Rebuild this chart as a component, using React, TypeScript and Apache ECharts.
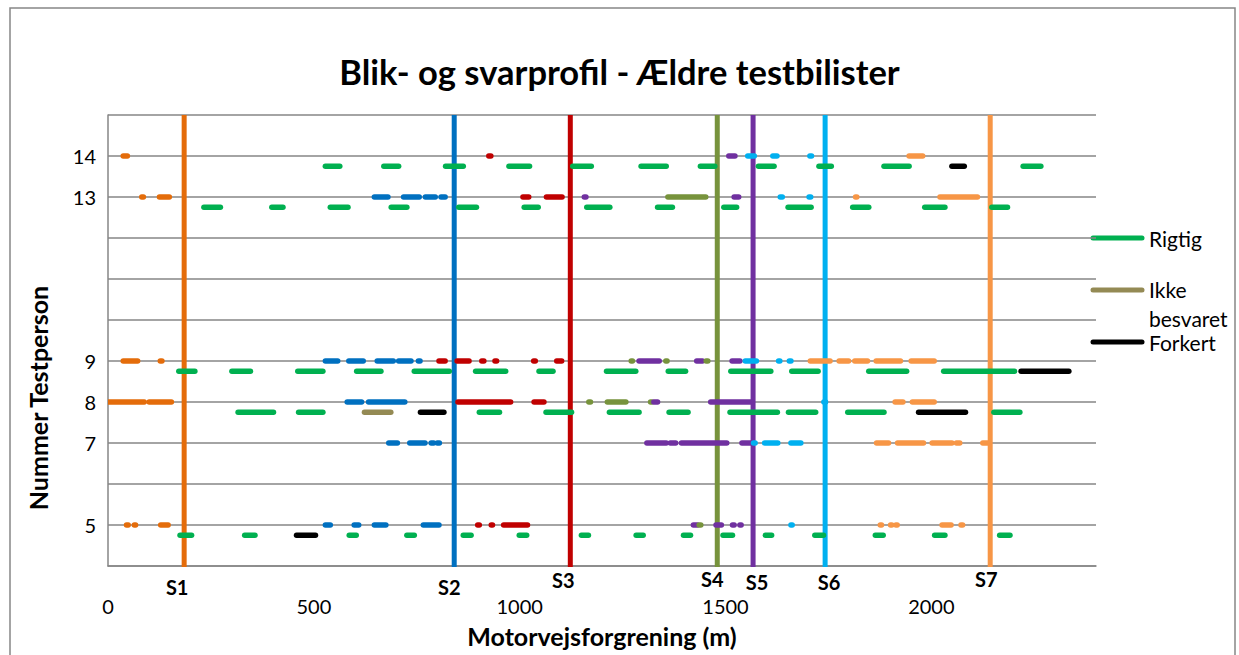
import React, { useEffect, useRef } from "react";
import * as echarts from "echarts";

// ---------- data ----------
const TITLE = "Blik- og svarprofil - Ældre testbilister";
const X_NAME = "Motorvejsforgrening (m)";
const Y_NAME = "Nummer Testperson";
const X_MIN = 0;
const X_MAX = 2400;
const X_STEP = 500;
const Y_MIN = 4;
const Y_MAX = 15;
const Y_LABELS = [5, 7, 8, 9, 13, 14];
const ANSWER_OFFSET = 0.25;

const SIGN_NAMES = ["S1", "S2", "S3", "S4", "S5", "S6", "S7"];
const SIGN_POS = [185, 841, 1123, 1480, 1567, 1742, 2143];

const LEGEND_NAMES = ["Rigtig", "Ikke besvaret", "Forkert"];

type Seg = [number, number, string];

const p14Gaze: Seg[] = [[37, 47, "S1"], [925, 930, "S3"], [1508, 1523, "S5"], [1554, 1570, "S6"], [1615, 1625, "S6"], [1705, 1709, "S6"], [1946, 1979, "S7"]];
const p14Answer: Seg[] = [[528, 563, "R"], [670, 706, "R"], [820, 863, "R"], [974, 1024, "R"], [1129, 1174, "R"], [1295, 1356, "R"], [1439, 1474, "R"], [1580, 1618, "R"], [1727, 1757, "R"], [1885, 1946, "R"], [2050, 2080, "F"], [2223, 2266, "R"]];

const p13Gaze: Seg[] = [[82, 86, "S1"], [125, 149, "S1"], [647, 680, "S2"], [718, 756, "S2"], [771, 795, "S2"], [809, 819, "S2"], [1008, 1022, "S3"], [1065, 1103, "S3"], [1157, 1161, "S5"], [1360, 1452, "S4"], [1521, 1532, "S5"], [1633, 1638, "S6"], [1703, 1707, "S6"], [1816, 1819, "S7"], [2021, 2112, "S7"]];
const p13Answer: Seg[] = [[233, 273, "R"], [398, 425, "R"], [540, 583, "R"], [688, 726, "R"], [852, 895, "R"], [1011, 1045, "R"], [1163, 1219, "R"], [1335, 1371, "R"], [1496, 1527, "R"], [1652, 1708, "R"], [1809, 1848, "R"], [1984, 2033, "R"], [2147, 2185, "R"]];

const p9Gaze: Seg[] = [[37, 72, "S1"], [127, 131, "S1"], [528, 558, "S2"], [585, 620, "S2"], [654, 693, "S2"], [706, 736, "S2"], [754, 758, "S2"], [804, 819, "S3"], [848, 877, "S3"], [908, 913, "S3"], [940, 944, "S3"], [1034, 1038, "S3"], [1090, 1102, "S3"], [1271, 1274, "S4"], [1290, 1339, "S5"], [1355, 1358, "S4"], [1430, 1444, "S5"], [1453, 1457, "S4"], [1516, 1535, "S5"], [1548, 1575, "S6"], [1629, 1632, "S6"], [1655, 1659, "S6"], [1706, 1754, "S7"], [1776, 1799, "S7"], [1814, 1845, "S7"], [1866, 1925, "S7"], [1951, 2007, "S7"]];
const p9Answer: Seg[] = [[172, 211, "R"], [301, 346, "R"], [461, 522, "R"], [604, 663, "R"], [744, 829, "R"], [893, 966, "R"], [1047, 1081, "R"], [1211, 1282, "R"], [1361, 1403, "R"], [1513, 1610, "R"], [1661, 1725, "R"], [1848, 1940, "R"], [2030, 2202, "R"], [2218, 2334, "F"]];

const p8Gaze: Seg[] = [[0, 88, "S1"], [100, 154, "S1"], [581, 616, "S2"], [633, 721, "S2"], [850, 978, "S3"], [1035, 1059, "S3"], [1168, 1172, "S4"], [1213, 1258, "S4"], [1318, 1321, "S4"], [1326, 1335, "S5"], [1464, 1565, "S5"], [1739, 1743, "S6"], [1912, 1931, "S7"], [1954, 2007, "S7"]];
const p8Answer: Seg[] = [[316, 402, "R"], [463, 522, "R"], [623, 687, "I"], [759, 816, "F"], [902, 951, "R"], [1064, 1126, "R"], [1218, 1290, "R"], [1363, 1409, "R"], [1511, 1626, "R"], [1653, 1719, "R"], [1797, 1885, "R"], [1969, 2083, "F"], [2152, 2215, "R"]];

const p7Gaze: Seg[] = [[682, 703, "S2"], [733, 770, "S2"], [785, 791, "S2"], [800, 805, "S2"], [1309, 1356, "S5"], [1366, 1379, "S5"], [1393, 1503, "S5"], [1540, 1562, "S5"], [1568, 1572, "S6"], [1595, 1627, "S6"], [1659, 1683, "S6"], [1867, 1896, "S7"], [1918, 1981, "S7"], [2002, 2050, "S7"], [2061, 2069, "S7"], [2125, 2137, "S7"]];
const p7Answer: Seg[] = [];

const p5Gaze: Seg[] = [[45, 49, "S1"], [64, 67, "S1"], [128, 146, "S1"], [528, 540, "S2"], [598, 609, "S2"], [647, 675, "S2"], [766, 804, "S2"], [898, 902, "S3"], [931, 934, "S3"], [961, 1019, "S3"], [1422, 1432, "S5"], [1436, 1440, "S4"], [1477, 1490, "S5"], [1517, 1521, "S5"], [1535, 1538, "S5"], [1659, 1662, "S6"], [1876, 1879, "S7"], [1901, 1904, "S7"], [1914, 1917, "S7"], [2026, 2048, "S7"], [2072, 2076, "S7"]];
const p5Answer: Seg[] = [[175, 203, "R"], [332, 357, "R"], [458, 504, "F"], [586, 603, "R"], [726, 744, "R"], [863, 882, "R"], [999, 1017, "R"], [1150, 1167, "R"], [1283, 1300, "R"], [1398, 1415, "R"], [1494, 1517, "R"], [1597, 1612, "R"], [1717, 1738, "R"], [1864, 1883, "R"], [2008, 2033, "R"], [2166, 2191, "R"]];

// ---------- styles ----------
const COLORS: Record<string, string> = {
  S1: "#E46C0A",
  S2: "#0070C0",
  S3: "#C00000",
  S4: "#77933C",
  S5: "#7030A0",
  S6: "#00B0F0",
  S7: "#F79646",
  R: "#00B050",
  I: "#948A54",
  F: "#000000",
};
const LEGEND_KEYS = ["R", "I", "F"];
const SIGN_LABEL_DX = [-7, -5, -7, -5, 4, 4, -4];
const SIGN_LABEL_DY = [21, 21, 14, 13, 16, 16, 13];
const FONT = "Lato, 'Open Sans', sans-serif";
const GRID_COLOR = "#868686";

const ROWS = [
  { y: 14, gaze: p14Gaze, answer: p14Answer },
  { y: 13, gaze: p13Gaze, answer: p13Answer },
  { y: 9, gaze: p9Gaze, answer: p9Answer },
  { y: 8, gaze: p8Gaze, answer: p8Answer },
  { y: 7, gaze: p7Gaze, answer: p7Answer },
  { y: 5, gaze: p5Gaze, answer: p5Answer },
];

export default function App() {
  const ref = useRef<HTMLDivElement>(null);

  useEffect(() => {
    if (!ref.current) return;
    const chart = echarts.init(ref.current, undefined, { renderer: "svg" });

    const segData: number[][] = [];
    const segKeys: string[] = [];
    ROWS.forEach((row) => {
      row.gaze.forEach(([a, b, k]) => {
        segData.push([a, b, row.y]);
        segKeys.push(k);
      });
      row.answer.forEach(([a, b, k]) => {
        segData.push([a, b, row.y - ANSWER_OFFSET]);
        segKeys.push(k);
      });
    });

    const legendY = [238, 290, 342];
    const legendFont = `21px ${FONT}`;

    const option: any = {
      animation: false,
      backgroundColor: "#ffffff",
      title: {
        text: TITLE,
        left: "center",
        top: 49,
        textStyle: { fontFamily: FONT, fontWeight: "bold", fontSize: 34.5, color: "#000" },
      },
      grid: { left: 108, right: 143, top: 115, bottom: 89, containLabel: false },
      xAxis: {
        type: "value",
        min: X_MIN,
        max: X_MAX,
        interval: X_STEP,
        splitLine: { show: false },
        axisTick: { show: false },
        axisLine: { onZero: false, lineStyle: { color: GRID_COLOR, width: 1.5 } },
        axisLabel: {
          margin: 30,
          fontFamily: FONT,
          fontSize: 20,
          color: "#000",
          showMaxLabel: false,
          formatter: (v: number) => String(v),
        },
        name: X_NAME,
        nameLocation: "middle",
        nameGap: 57,
        nameTextStyle: { fontFamily: FONT, fontWeight: "bold", fontSize: 25, color: "#000" },
      },
      yAxis: {
        type: "value",
        min: Y_MIN,
        max: Y_MAX,
        interval: 1,
        splitLine: { show: true, lineStyle: { color: GRID_COLOR, width: 1.5 } },
        axisTick: { show: false },
        axisLine: { show: true, onZero: false, lineStyle: { color: GRID_COLOR, width: 1.5 } },
        axisLabel: {
          margin: 12,
          fontFamily: FONT,
          fontSize: 20,
          color: "#000",
          formatter: (v: number) => (Y_LABELS.includes(v) ? String(v) : ""),
        },
      },
      series: [
        {
          type: "custom",
          name: "signs",
          clip: false,
          z: 2,
          data: SIGN_POS.map((x, i) => [x, i]),
          encode: { x: 0 },
          renderItem: (params: any, api: any) => {
            const x = api.value(0);
            const i = params.dataIndex;
            const b = api.coord([x, Y_MIN]);
            const t = api.coord([x, Y_MAX]);
            return {
              type: "group",
              children: [
                {
                  type: "line",
                  shape: { x1: b[0], y1: b[1] + 1, x2: t[0], y2: t[1] },
                  style: { stroke: COLORS[SIGN_NAMES[i]], lineWidth: 5 },
                },
                {
                  type: "text",
                  x: b[0] + SIGN_LABEL_DX[i],
                  y: b[1] + SIGN_LABEL_DY[i],
                  style: {
                    text: SIGN_NAMES[i],
                    fill: "#000",
                    font: `bold 20px ${FONT}`,
                    align: "center",
                    verticalAlign: "middle",
                    textAlign: "center",
                    textVerticalAlign: "middle",
                  },
                },
              ],
            };
          },
        },
        {
          type: "custom",
          name: "segments",
          clip: true,
          z: 3,
          data: segData,
          encode: { x: [0, 1], y: 2 },
          renderItem: (params: any, api: any) => {
            const p1 = api.coord([api.value(0), api.value(2)]);
            const p2 = api.coord([api.value(1), api.value(2)]);
            return {
              type: "line",
              shape: { x1: p1[0], y1: p1[1], x2: p2[0], y2: p2[1] },
              style: {
                stroke: COLORS[segKeys[params.dataIndex]],
                lineWidth: 5.5,
                lineCap: "round",
              },
            };
          },
        },
      ],
      graphic: [
        {
          type: "rect",
          shape: { x: 10, y: 8, width: 1225, height: 700 },
          style: { fill: "none", stroke: GRID_COLOR, lineWidth: 1.5 },
          silent: true,
        },
        {
          type: "text",
          x: 38,
          y: 398,
          rotation: Math.PI / 2,
          style: {
            text: Y_NAME,
            fill: "#000",
            font: `bold 25px ${FONT}`,
            align: "center",
            verticalAlign: "middle",
            textAlign: "center",
            textVerticalAlign: "middle",
          },
        },
        ...LEGEND_KEYS.map((k, i) => ({
          type: "line",
          shape: { x1: 1093, y1: legendY[i], x2: 1142, y2: legendY[i] },
          style: { stroke: COLORS[k], lineWidth: 5, lineCap: "round" },
        })),
        {
          type: "text",
          x: 1149,
          y: legendY[0],
          style: { text: LEGEND_NAMES[0], fill: "#000", font: legendFont, align: "left", verticalAlign: "middle", textAlign: "left", textVerticalAlign: "middle" },
        },
        {
          type: "text",
          x: 1149,
          y: legendY[1] + 14,
          style: { text: "Ikke\nbesvaret", lineHeight: 29, fill: "#000", font: legendFont, align: "left", verticalAlign: "middle", textAlign: "left", textVerticalAlign: "middle" },
        },
        {
          type: "text",
          x: 1149,
          y: legendY[2],
          style: { text: LEGEND_NAMES[2], fill: "#000", font: legendFont, align: "left", verticalAlign: "middle", textAlign: "left", textVerticalAlign: "middle" },
        },
      ],
    };

    chart.setOption(option);
    return () => chart.dispose();
  }, []);

  return (
    <div
      ref={ref}
      style={{ position: "fixed", left: 0, top: 0, width: 1239, height: 655, background: "#fff" }}
    />
  );
}
